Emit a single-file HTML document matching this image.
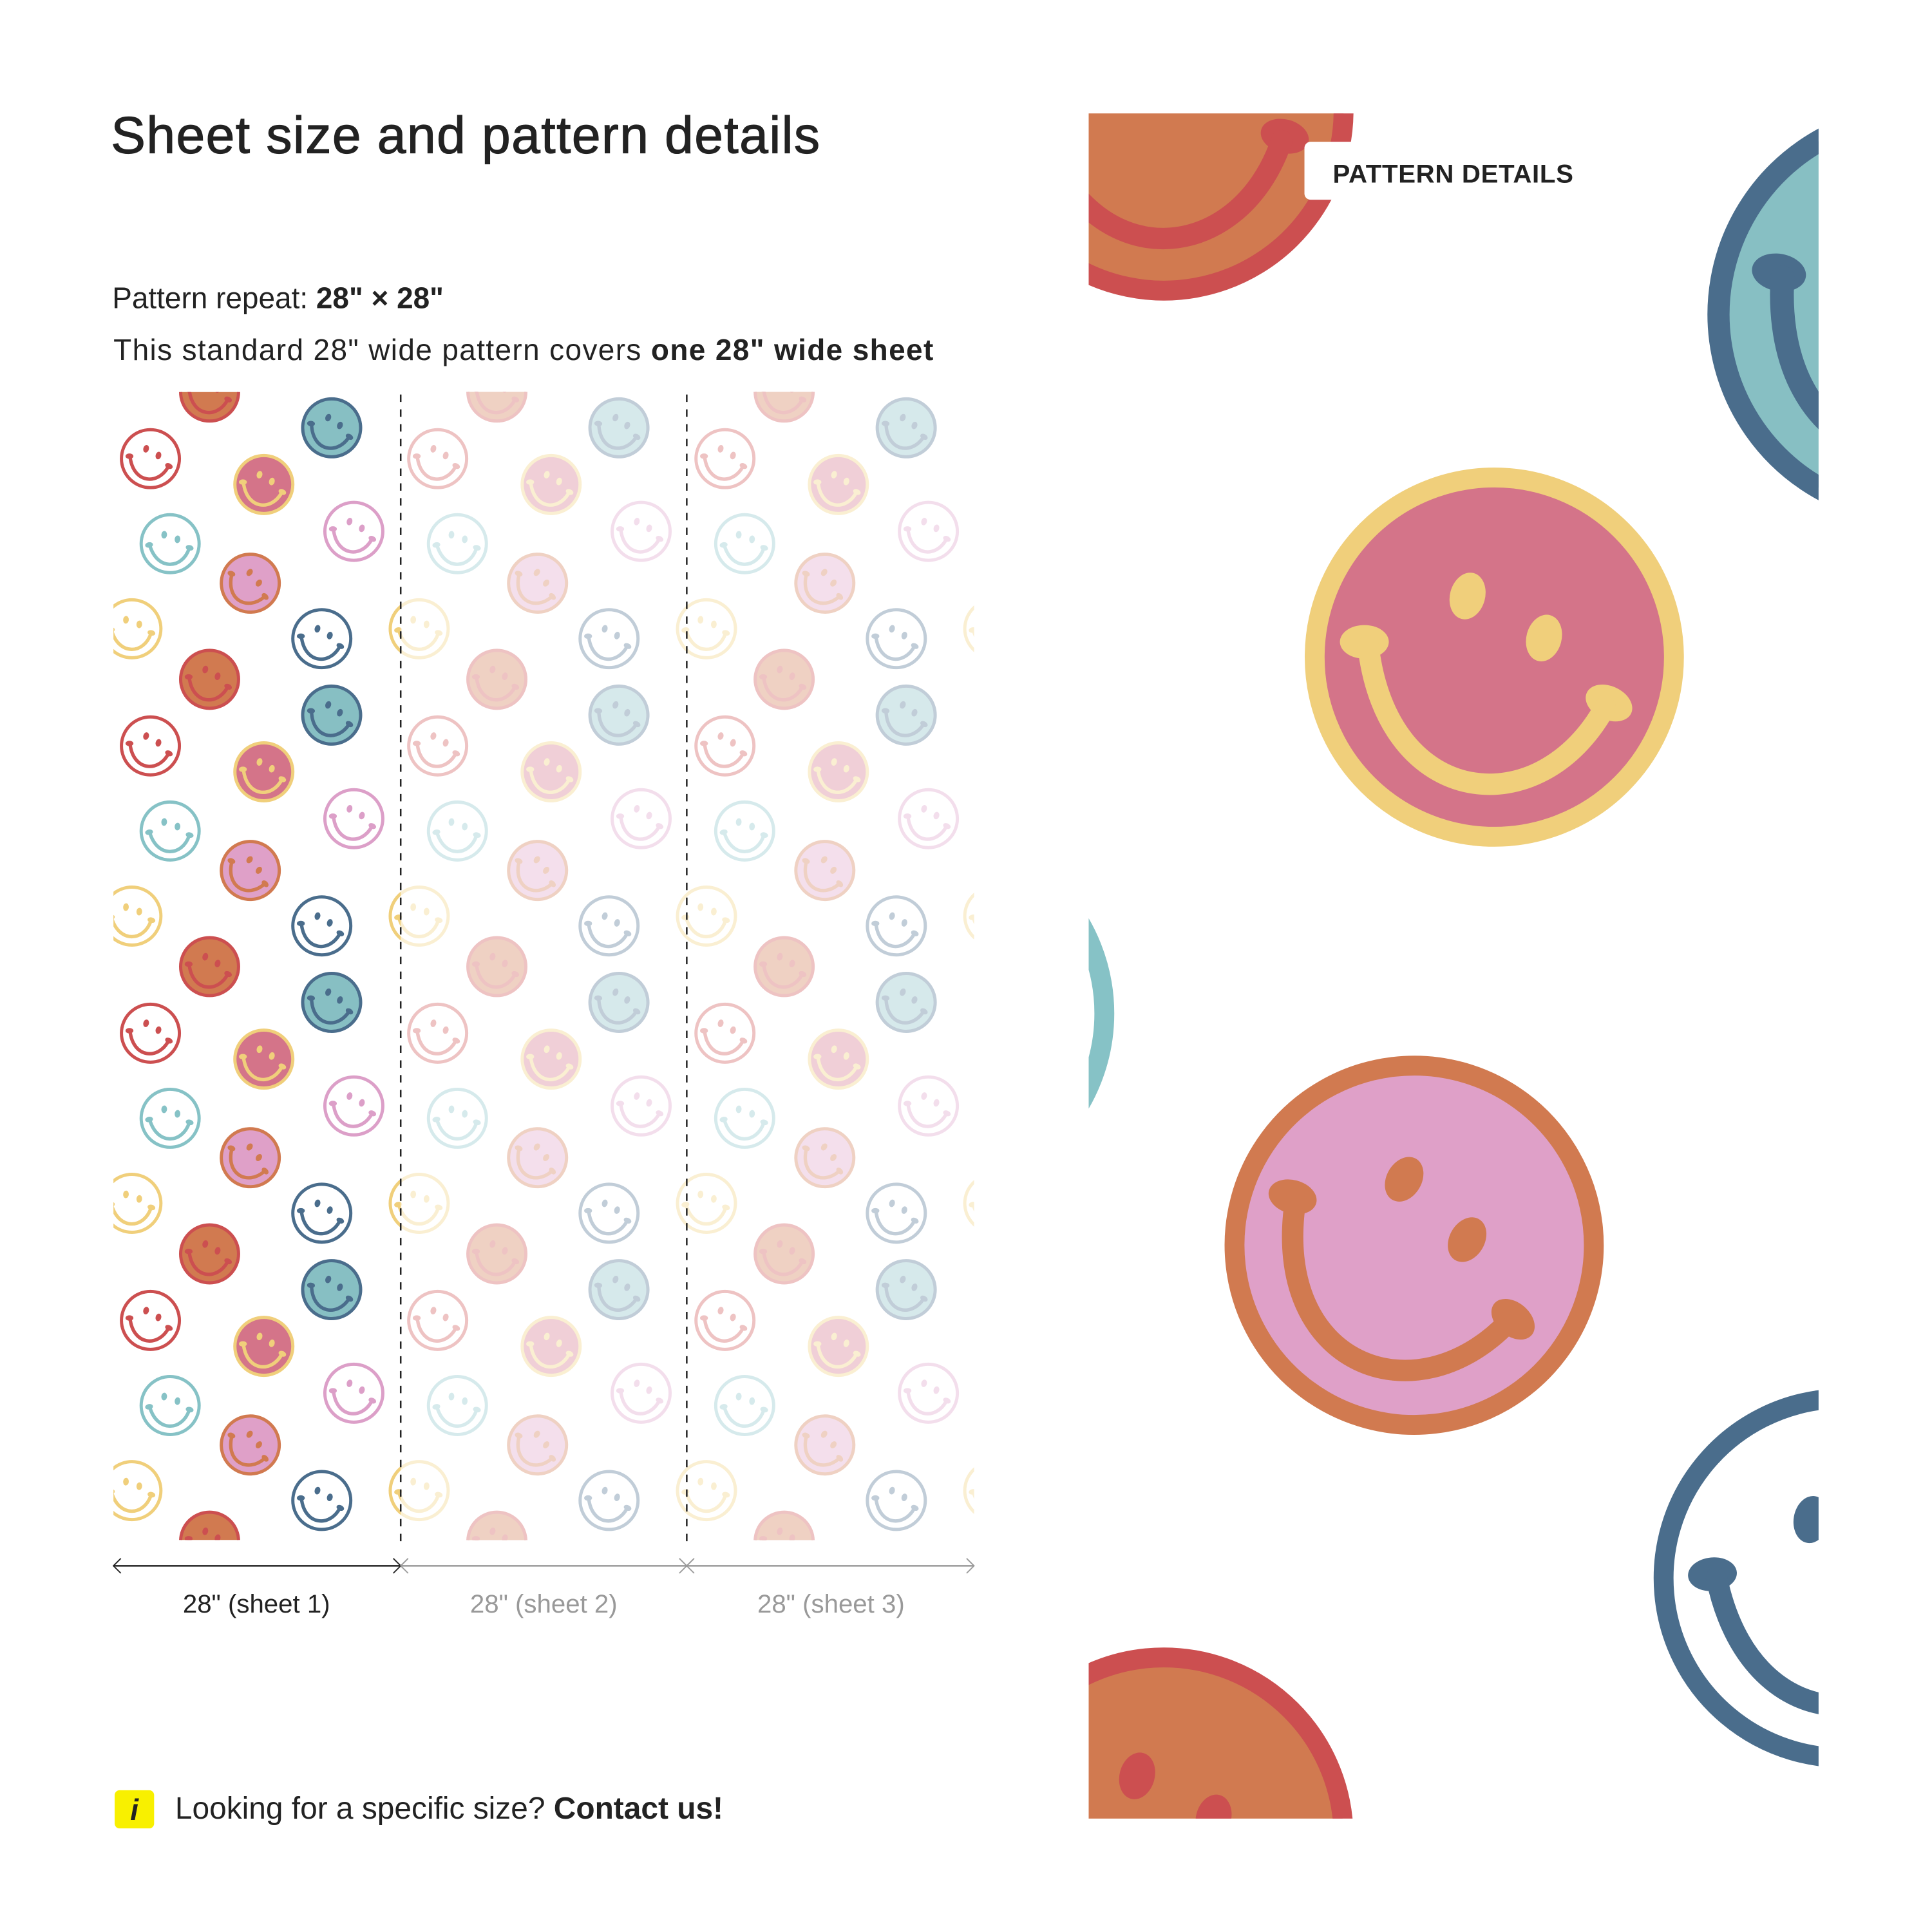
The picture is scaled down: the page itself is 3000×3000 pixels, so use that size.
<!DOCTYPE html>
<html><head><meta charset="utf-8"><style>
html,body{margin:0;padding:0;background:#fff;width:3000px;height:3000px;overflow:hidden;}
svg{display:block;}
text{font-family:"Liberation Sans",sans-serif;}
</style></head><body>
<svg width="3000" height="3000" viewBox="0 0 1567 1567" xmlns="http://www.w3.org/2000/svg">
<defs>
  <g id="face">
    <ellipse cx="-3.5" cy="-8" rx="2.3" ry="3.1" transform="rotate(15 -3.5 -8)"/>
    <ellipse cx="6.5" cy="-2.5" rx="2.3" ry="3.1" transform="rotate(15 6.5 -2.5)"/>
    <ellipse cx="-17" cy="-2" rx="3.2" ry="2.2"/>
    <ellipse cx="15" cy="6" rx="3.2" ry="2.2" transform="rotate(25 15 6)"/>
  </g>
  <path id="mouth" d="M-16.5,-1.5 C-14,20 6,22 14.5,6.5" fill="none" stroke-width="2.8" stroke-linecap="round"/>
  <g id="s_orange"><circle r="23.5" fill="#d17a50" stroke="#cc4f50" stroke-width="2.6"/><g fill="#cc4f50"><use href="#face"/><use href="#mouth" stroke="#cc4f50"/></g></g>
  <g id="s_teal"><circle r="23.5" fill="#87bfc3" stroke="#4a6d8c" stroke-width="2.6"/><g fill="#4a6d8c"><use href="#face"/><use href="#mouth" stroke="#4a6d8c"/></g></g>
  <g id="s_red"><circle r="23.5" fill="#fff" stroke="#cc4f50" stroke-width="2.6"/><g fill="#cc4f50"><use href="#face"/><use href="#mouth" stroke="#cc4f50"/></g></g>
  <g id="s_pinky"><circle r="23.5" fill="#d47489" stroke="#f0cf7b" stroke-width="2.6"/><g fill="#f0cf7b"><use href="#face"/><use href="#mouth" stroke="#f0cf7b"/></g></g>
  <g id="s_pinkout"><circle r="23.5" fill="#fff" stroke="#dc9fc8" stroke-width="2.6"/><g fill="#dc9fc8"><use href="#face"/><use href="#mouth" stroke="#dc9fc8"/></g></g>
  <g id="s_tealout"><circle r="23.5" fill="#fff" stroke="#86c2c6" stroke-width="2.6"/><g fill="#86c2c6"><use href="#face"/><use href="#mouth" stroke="#86c2c6"/></g></g>
  <g id="s_pinko"><circle r="23.5" fill="#dfa0c8" stroke="#d17a50" stroke-width="2.6"/><g fill="#d17a50"><use href="#face"/><use href="#mouth" stroke="#d17a50"/></g></g>
  <g id="s_yellow"><circle r="23.5" fill="#fff" stroke="#f0cf7b" stroke-width="2.6"/><g fill="#f0cf7b"><use href="#face"/><use href="#mouth" stroke="#f0cf7b"/></g></g>
  <g id="s_blueout"><circle r="23.5" fill="#fff" stroke="#4a6d8c" stroke-width="2.6"/><g fill="#4a6d8c"><use href="#face"/><use href="#mouth" stroke="#4a6d8c"/></g></g>
  <g id="tile">
    <use href="#s_orange" transform="translate(78,0)"/>
    <use href="#s_teal" transform="translate(177,29) rotate(5)"/>
    <use href="#s_red" transform="translate(30,54)"/>
    <use href="#s_pinky" transform="translate(122,75)"/>
    <use href="#s_pinkout" transform="translate(195,113)"/>
    <use href="#s_tealout" transform="translate(46,123) rotate(-10)"/>
    <use href="#s_pinko" transform="translate(111,155) rotate(20)"/>
    <use href="#s_yellow" transform="translate(15,192) rotate(-10)"/>
    <use href="#s_blueout" transform="translate(169,200)"/>
  </g>
  <g id="col">
    <use href="#tile" transform="translate(0,-233)"/>
    <use href="#tile" transform="translate(0,0)"/>
    <use href="#tile" transform="translate(0,233)"/>
    <use href="#tile" transform="translate(0,466)"/>
    <use href="#tile" transform="translate(0,699)"/>
    <use href="#tile" transform="translate(0,932)"/>
  </g>
  <clipPath id="pclip"><rect x="92" y="318" width="698" height="931"/></clipPath>
  <clipPath id="rclip"><rect x="883" y="92" width="592" height="1383"/></clipPath>
</defs>

<text x="90" y="124" font-size="42" fill="#222" stroke="#222" stroke-width="0.6" textLength="575">Sheet size and pattern details</text>
<text x="91" y="250" font-size="24" fill="#222">Pattern repeat: <tspan font-weight="bold">28" × 28"</tspan></text>
<text x="92" y="292" font-size="24" fill="#222" textLength="665">This standard 28" wide pattern covers <tspan font-weight="bold">one 28" wide sheet</tspan></text>

<g clip-path="url(#pclip)">
  <g transform="translate(92,318)">
    <use href="#col" transform="translate(-233,0)"/>
    <use href="#col"/>
    <use href="#col" transform="translate(233,0)"/>
    <use href="#col" transform="translate(466,0)"/>
    <use href="#col" transform="translate(699,0)"/>
  </g>
  <rect x="325" y="310" width="470" height="945" fill="#fff" opacity="0.66"/>
</g>
<line x1="325" y1="320" x2="325" y2="1250" stroke="#222" stroke-width="1.3" stroke-dasharray="6,6"/>
<line x1="557" y1="320" x2="557" y2="1250" stroke="#222" stroke-width="1.3" stroke-dasharray="6,6"/>

<line x1="92" y1="1270" x2="325" y2="1270" stroke="#222" stroke-width="1.3"/>
<line x1="325" y1="1270" x2="790" y2="1270" stroke="#999" stroke-width="1.3"/>
<path d="M98,1264 L92,1270 L98,1276" fill="none" stroke="#222" stroke-width="1"/>
<path d="M319,1264 L325,1270 L319,1276" fill="none" stroke="#222" stroke-width="1"/>
<path d="M331,1264 L325,1270 L331,1276 M551,1264 L557,1270 L551,1276 M563,1264 L557,1270 L563,1276 M784,1264 L790,1270 L784,1276" fill="none" stroke="#999" stroke-width="1"/>
<text x="208" y="1308" font-size="21" fill="#222" text-anchor="middle">28" (sheet 1)</text>
<text x="441" y="1308" font-size="21" fill="#999" text-anchor="middle">28" (sheet 2)</text>
<text x="674" y="1308" font-size="21" fill="#999" text-anchor="middle">28" (sheet 3)</text>

<rect x="93" y="1452" width="32" height="31" rx="4" fill="#f8f000"/>
<text x="109" y="1476" font-size="24" font-family="Liberation Serif" font-style="italic" font-weight="bold" fill="#222" text-anchor="middle">i</text>
<text x="142" y="1475" font-size="25" fill="#222">Looking for a specific size? <tspan font-weight="bold">Contact us!</tspan></text>

<g clip-path="url(#rclip)">
  <use href="#s_orange" transform="translate(944,90) scale(6.2) rotate(-10)"/>
  <use href="#s_teal" transform="translate(1556,255) scale(6.9) rotate(10)"/>
  <use href="#s_pinky" transform="translate(1212,533) scale(6.2)"/>
  <use href="#s_tealout" transform="translate(750,822) scale(6.2)"/>
  <use href="#s_pinko" transform="translate(1147,1010) scale(6.2) rotate(15)"/>
  <use href="#s_blueout" transform="translate(1495,1280) scale(6.2) rotate(-5)"/>
  <use href="#s_orange" transform="translate(944,1490) scale(6.2)"/>
</g>
<rect x="1058" y="115" width="232" height="47" rx="5" fill="#fff"/>
<text x="1081" y="148" font-size="21" font-weight="bold" fill="#222" textLength="195">PATTERN DETAILS</text>
</svg>
</body></html>
